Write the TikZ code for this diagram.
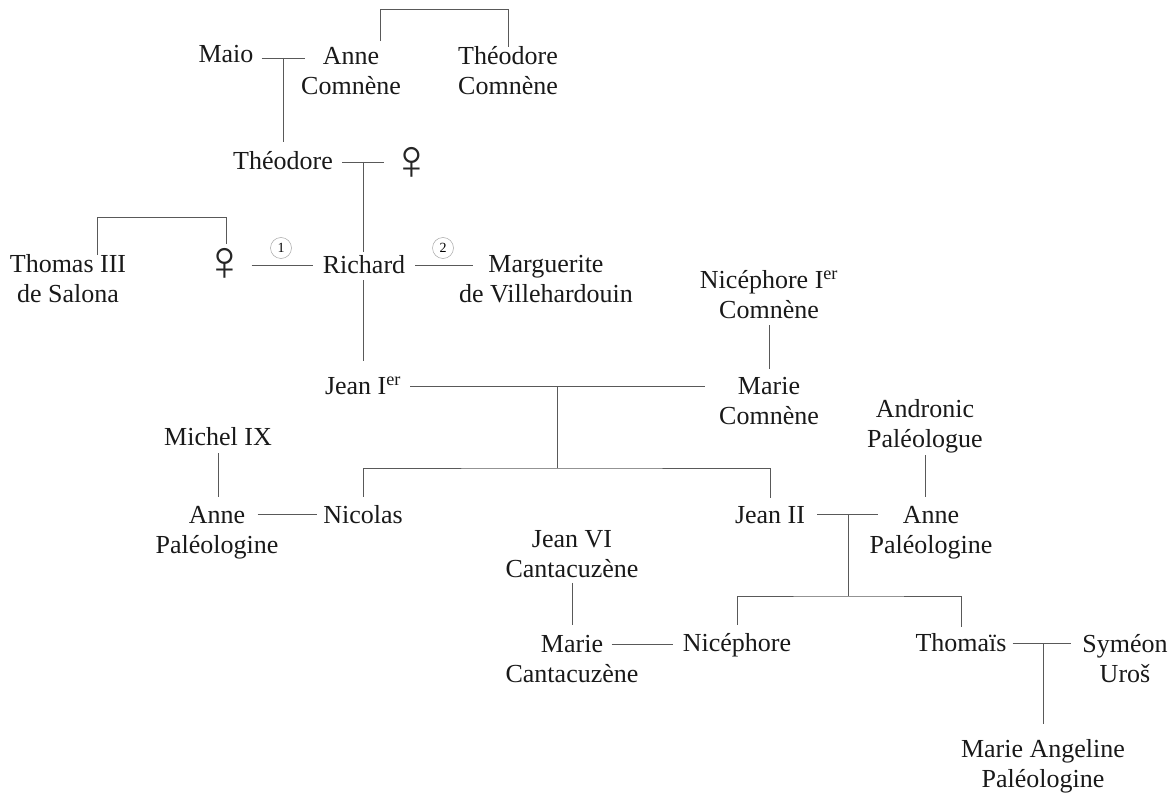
\documentclass[tikz,border=0pt]{standalone}
\usepackage{fontspec}
\setmainfont{Liberation Serif}
\usetikzlibrary{calc}
\tikzset{
  person/.style={font=\fontsize{26}{30}\selectfont,align=center,inner sep=0pt,text=black!90},
  femme/.style={font=\fontsize{57}{57}\selectfont,inner sep=0pt,text=black!85},
  link/.style={draw=black!65,line width=0.8pt},
  rank/.style={circle,draw=black!35,line width=0.5pt,inner sep=0pt,minimum size=21pt,font=\fontsize{14}{14}\selectfont}
}
\newcommand{\er}{\textsuperscript{er}}
\begin{document}
\begin{tikzpicture}[x=1pt,y=-1pt]
  \useasboundingbox (0,0) rectangle (1172,794);
  \node[person] (maio) at (226,54) {Maio};
  \node[person] (anne) at (351,71) {Anne\\Comnène};
  \node[person] (theodorec) at (508,71) {Théodore\\Comnène};
  \node[person] (theodore) at (283,161) {Théodore};
  \node[femme] (f1) at (412,163) {♀};
  \node[person] (thomas) at (68,279) {Thomas III\\de Salona};
  \node[femme] (f2) at (225,264) {♀};
  \node[person] (richard) at (364,265) {Richard};
  \node[person] (marguerite) at (546,279) {Marguerite\\de Villehardouin};
  \node[person] (nicephore1) at (769,295) {Nicéphore I\er\\Comnène};
  \node[person] (jean1) at (363,386) {Jean I\er};
  \node[person] (marie) at (769,401) {Marie\\Comnène};
  \node[person] (andronic) at (925,426) {Andronic\\Paléologue};
  \node[person] (michel) at (218,437) {Michel IX};
  \node[person] (annep) at (217,533) {Anne\\Paléologine};
  \node[person] (nicolas) at (363,515) {Nicolas};
  \node[person] (jean2) at (770,515) {Jean II};
  \node[person] (annep2) at (931,533) {Anne\\Paléologine};
  \node[person] (jean6) at (572,554) {Jean VI\\Cantacuzène};
  \node[person] (mariec) at (572,659) {Marie\\Cantacuzène};
  \node[person] (nicephore) at (737,645) {Nicéphore};
  \node[person] (thomais) at (961,643) {Thomaïs};
  \node[person] (symeon) at (1125,659) {Syméon\\Uroš};
  \node[person] (mariea) at (1043,766) {Marie Angeline\\Paléologine};
  \coordinate (c1) at (283,58);
  \coordinate (c2) at (363,162);
  \coordinate (c3) at (557,386);
  \coordinate (c4) at (848,514);
  \coordinate (c5) at (1043,643);
  \coordinate (u1) at (0,265);
  \coordinate (u2) at (0,644);
  \coordinate (b1) at (557,468);
  \coordinate (b2) at (848,596);
  \coordinate (s1) at (380,9);
  \coordinate (s2) at (508,9);
  \coordinate (s3) at (97,217);
  \coordinate (s4) at (226,217);
  % unions
  \draw[link,shorten <=8pt,shorten >=-4pt] (maio.east |- c1) -- (anne.west |- c1);
  \draw[link,shorten <=9pt,shorten >=6pt] (theodore.east |- c2) -- (f1.west |- c2);
  \draw[link,shorten <=5pt,shorten >=10pt] (f2.east |- u1) -- (richard.west |- u1);
  \draw[link,shorten <=10pt,shorten >=-14pt] (richard.east |- u1) -- (marguerite.west |- u1);
  \draw[link,shorten <=9pt,shorten >=14pt] (jean1.east |- c3) -- (marie.west |- c3);
  \draw[link,shorten <=-21pt,shorten >=6pt] (annep.east |- c4) -- (nicolas.west |- c4);
  \draw[link,shorten <=12pt,shorten >=-9pt] (jean2.east |- c4) -- (annep2.west |- c4);
  \draw[link,shorten <=-27pt,shorten >=10pt] (mariec.east |- u2) -- (nicephore.west |- u2);
  \draw[link,shorten <=6pt,shorten >=11pt] (thomais.east |- c5) -- (symeon.west |- c5);
  % descent
  \draw[link,shorten >=10pt] (c1) -- (theodore.north -| c1);
  \draw[link,shorten >=4pt] (c2) -- (richard.north -| c2);
  \draw[link,shorten <=6pt,shorten >=16pt] (richard.south -| c2) -- (jean1.north -| c2);
  \draw[link] (c3) -- (b1);
  \draw[link,shorten <=9pt,shorten >=8pt] (nicolas.north) |- (b1) -| (jean2.north);
  \draw[link] (c4) -- (b2);
  \draw[link,shorten <=8pt,shorten >=7pt] (nicephore.north) |- (b2) -| (thomais.north);
  \draw[link,shorten >=15pt] (c5) -- (mariea.north);
  \draw[link,shorten <=6pt,shorten >=8pt] (nicephore1.south) -- (marie.north);
  \draw[link,shorten <=7pt,shorten >=9pt] (michel.south) -- (michel.south |- annep.north);
  \draw[link,shorten <=2pt,shorten >=9pt] (andronic.south) -- (andronic.south |- annep2.north);
  \draw[link,shorten <=5pt,shorten >=10pt] (jean6.south) -- (mariec.north);
  % siblings
  \draw[link,shorten <=6pt] (s1 |- anne.north) -- (s1) -- (s2) -- (theodorec.north);
  \draw[link,shorten >=4pt] (s3 |- thomas.north) -- (s3) -- (s4) -- (s4 |- f2.north);
  \node[rank] (r1) at (281,248) {1};
  \node[rank] (r2) at (443,248) {2};
\end{tikzpicture}
\end{document}
